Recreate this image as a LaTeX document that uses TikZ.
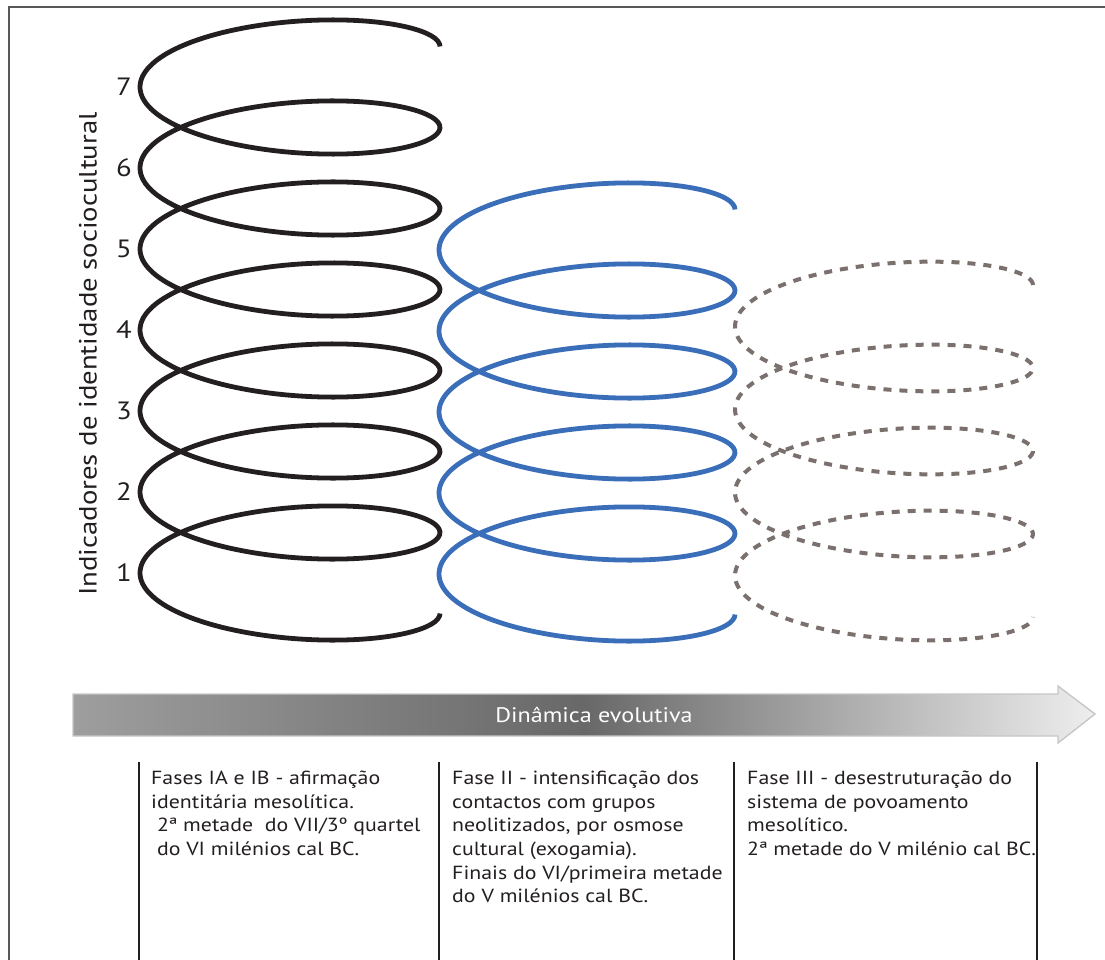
\documentclass[tikz,border=0pt]{standalone}
\usepackage{fontspec}
\setmainfont{PT Sans}[FakeStretch=1.15]
\usetikzlibrary{positioning}
\definecolor{ink}{RGB}{35,31,32}
\definecolor{border}{RGB}{88,88,88}
\definecolor{helixblue}{RGB}{58,110,185}
\definecolor{helixgrey}{RGB}{122,112,110}
\definecolor{shadeL}{RGB}{158,158,158}
\definecolor{shadeM}{RGB}{104,104,104}
\definecolor{shadeR}{RGB}{238,238,238}
\tikzset{
  helix/.style={line width=4.8pt,line join=round,draw=ink},
  bluehelix/.style={helix,draw=helixblue},
  greyhelix/.style={helix,draw=helixgrey,line width=4pt,dash pattern=on 8pt off 8pt},
  level/.style={text=ink,inner sep=0pt,font=\fontsize{25}{30}\selectfont},
  phase/.style={anchor=north west,align=left,inner sep=0pt,text=ink,
                font=\fontsize{19}{23.6}\selectfont},
  divider/.style={line width=2.2pt,draw=ink},
  timearrow/.style={draw=black!22,line width=1.4pt,line join=miter,
                    left color=shadeL,right color=shadeR,middle color=shadeM}
}

\begin{document}
\begin{tikzpicture}[x=1pt,y=-1pt]
  \useasboundingbox (0,0) rectangle (1105,960);
  \fill[white] (0,0) rectangle (1105,960);
  \draw[border,line width=2.5pt] (9,965) |- (1110,7);

  \draw[helix] plot[domain=-180:2340,samples=500,smooth,variable=\t]
    ({290-150*cos(\t)},{87+\t/360*81+45*sin(\t)});
  \draw[bluehelix] plot[domain=-180:1620,samples=360,smooth,variable=\t]
    ({587-148*cos(\t)},{250+\t/360*81+45*sin(\t)});
  \draw[greyhelix] plot[domain=-180:1260,samples=300,smooth,variable=\t]
    ({884-149*cos(\t)},{326.5+\t/360*83+42*sin(\t)});

  \foreach \n in {1,...,7}
    \node[level] (lv\n) at (124,{87+81*(7-\n)}) {\n};
  \node[level,rotate=90] (axis) at (88,354) {Indicadores de identidade sociocultural};

  \path[timearrow] (73,694) -- (1058,694) -- (1058,686) -- (1095,714)
    -- (1058,743) -- (1058,736) -- (73,736) -- cycle;
  \node[text=white,inner sep=0pt,font=\fontsize{21}{25}\selectfont] (dyn) at (594,715) {Dinâmica evolutiva};

  \foreach \x in {139,439,734,1037}
    \draw[divider] (\x,762) -- (\x,962);
  \node[phase] (ph1) at (151,771) {Fases IA e IB - afirmação\\identitária mesolítica.\\
    \ 2ª metade\ \ do VII/3º quartel\\\ do VI milénios cal BC.};
  \node[phase] (ph2) at (452,771) {Fase II - intensificação dos\\contactos com grupos\\
    neolitizados, por osmose\\cultural (exogamia).\\Finais do VI/primeira metade\\do V milénios cal BC.};
  \node[phase] (ph3) at (747,771) {Fase III - desestruturação do\\sistema de povoamento\\
    mesolítico.\\2ª metade do V milénio cal BC.};
\end{tikzpicture}
\end{document}
